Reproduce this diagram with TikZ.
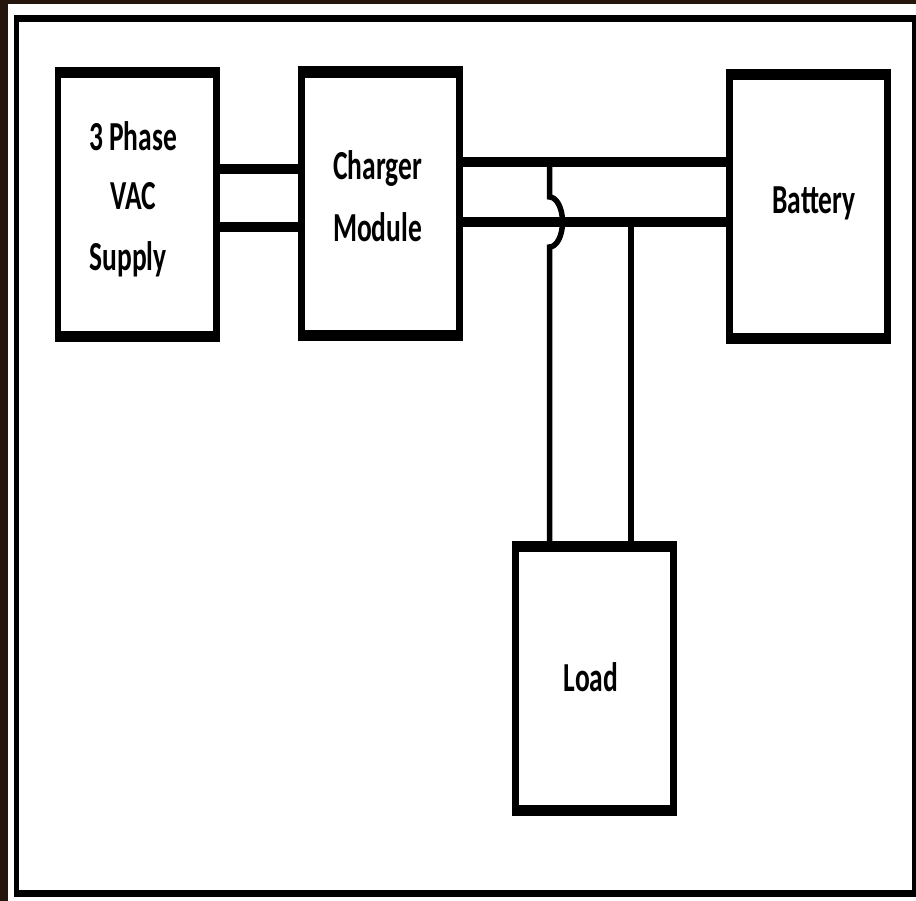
\documentclass[tikz,border=0pt]{standalone}
\usepackage{fontspec}
\setmainfont{Carlito}
\usetikzlibrary{calc}
\definecolor{bgdark}{RGB}{36,22,12}
\begin{document}
\begin{tikzpicture}[x=1pt,y=-1pt,
  boxout/.style={rectangle,fill=black,draw=none,minimum width=165pt,minimum height=275pt,inner sep=0pt},
  lbl/.style={anchor=base,inner sep=0pt,font=\fontsize{27.5}{30}\selectfont\bfseries},
  hwire/.style={line width=10pt,line cap=butt},
  vwire/.style={line width=5.5pt,line cap=butt}]
\useasboundingbox (0,0) rectangle (916,901);
% background and frame
\fill[bgdark] (0,0) rectangle (916,901);
\fill[white] (8,4) rectangle (916,901);
\fill[black] (14,15) rectangle (916,897);
\fill[white] (19,22) rectangle (912,890);
% boxes
\newcommand{\blockbox}[2]{%
  \node[boxout] (#1) at #2 {};
  \fill[white] ($(#1.north west)+(7,11.5)$) rectangle ($(#1.south east)+(-7,-11.5)$);}
\blockbox{sup}{(137,204.5)}
\blockbox{chg}{(380.5,204)}
\blockbox{bat}{(808.5,206.5)}
\blockbox{load}{(594.5,678.5)}
% labels
\node[lbl] (t1) at (133,151) {\scalebox{1}[1.5]{3 Phase}};
\node[lbl] (t2) at (133.5,210) {\scalebox{1}[1.5]{VAC}};
\node[lbl] (t3) at (128,271) {\scalebox{1}[1.5]{Supply}};
\node[lbl] (t4) at (377.5,180) {\scalebox{1}[1.5]{Charger}};
\node[lbl] (t5) at (377.5,242) {\scalebox{1}[1.5]{Module}};
\node[lbl] (t6) at (814,214) {\scalebox{1}[1.5]{Battery}};
\node[lbl] (t7) at (591,691) {\scalebox{1}[1.5]{Load}};
% wires
\coordinate (ya) at (0,169);
\coordinate (yb) at (0,227);
\coordinate (yc) at (0,162);
\coordinate (yd) at (0,222);
\coordinate (va) at (549.5,0);
\coordinate (vb) at (631,0);
\draw[hwire] (sup.east |- ya) -- (chg.west |- ya);
\draw[hwire] (sup.east |- yb) -- (chg.west |- yb);
\draw[hwire] (chg.east |- yc) -- (bat.west |- yc);
\draw[hwire] (chg.east |- yd) -- (bat.west |- yd);
\coordinate (j1) at (549.5,197);
\draw[vwire] (va |- yc) -- (j1) arc[start angle=90,end angle=-90,x radius=13pt,y radius=25pt] -- (va |- load.north);
\draw[vwire] (vb |- yd) -- (vb |- load.north);
\end{tikzpicture}
\end{document}
